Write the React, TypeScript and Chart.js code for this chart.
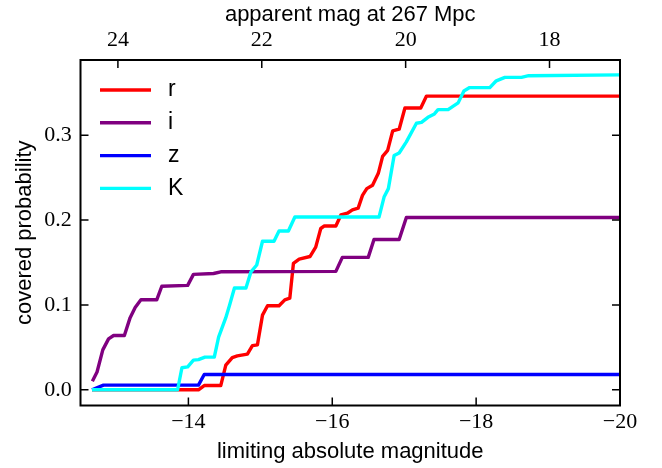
import React, { useEffect, useRef } from 'react';
import { Chart, registerables } from 'chart.js';

Chart.register(...registerables);

// Axis ranges and ticks
const DIST_MOD = 37.02; // apparent = absolute + DIST_MOD at 267 Mpc
const X_MIN = -20;
const X_MAX = -12.5;
const Y_MIN = -0.0185;
const Y_MAX = 0.3885;
const xTicks = [-14, -16, -18, -20];
const topTicks = [24, 22, 20, 18];
const yTicks = [0, 0.1, 0.2, 0.3];

const seriesLabels = ['r', 'i', 'z', 'K'];
const seriesColors = ['#ff0000', '#800080', '#0000ff', '#00ffff'];

// r band
const rX = [-12.66, -14.14, -14.22, -14.45, -14.52, -14.61, -14.68, -14.82, -14.89, -14.96, -15.03, -15.10, -15.26, -15.34, -15.41, -15.46, -15.54, -15.69, -15.77, -15.84, -15.89, -16.05, -16.12, -16.21, -16.28, -16.36, -16.42, -16.48, -16.56, -16.64, -16.70, -16.77, -16.84, -16.93, -17.01, -17.23, -17.31, -20];
const rY = [0, 0, 0.005, 0.005, 0.029, 0.038, 0.040, 0.042, 0.052, 0.053, 0.088, 0.099, 0.099, 0.106, 0.108, 0.149, 0.154, 0.157, 0.168, 0.190, 0.193, 0.193, 0.206, 0.208, 0.212, 0.214, 0.229, 0.237, 0.241, 0.255, 0.275, 0.282, 0.305, 0.307, 0.332, 0.332, 0.346, 0.346];

// i band
const iX = [-12.665, -12.73, -12.81, -12.89, -12.96, -13.11, -13.19, -13.26, -13.34, -13.56, -13.63, -13.99, -14.07, -14.35, -14.45, -16.05, -16.14, -16.50, -16.58, -16.93, -17.03, -20];
const iY = [0.010, 0.021, 0.047, 0.060, 0.064, 0.064, 0.085, 0.097, 0.106, 0.106, 0.122, 0.123, 0.136, 0.137, 0.139, 0.1395, 0.156, 0.156, 0.177, 0.177, 0.203, 0.203];

// z band
const zX = [-12.66, -12.82, -14.14, -14.22, -20];
const zY = [0, 0.0055, 0.0055, 0.018, 0.018];

// K band
const kX = [-12.66, -13.85, -13.91, -13.99, -14.07, -14.14, -14.23, -14.36, -14.42, -14.52, -14.57, -14.64, -14.80, -14.87, -14.95, -15.03, -15.19, -15.26, -15.39, -15.48, -16.65, -16.72, -16.78, -16.86, -16.93, -17.03, -17.17, -17.24, -17.33, -17.42, -17.47, -17.61, -17.75, -17.83, -17.91, -18.19, -18.28, -18.40, -18.63, -18.73, -20];
const kY = [0, 0, 0.026, 0.027, 0.035, 0.0355, 0.0385, 0.0385, 0.062, 0.085, 0.099, 0.120, 0.120, 0.139, 0.147, 0.175, 0.175, 0.187, 0.187, 0.2035, 0.2035, 0.227, 0.237, 0.276, 0.279, 0.292, 0.314, 0.315, 0.321, 0.325, 0.330, 0.330, 0.338, 0.352, 0.356, 0.356, 0.364, 0.368, 0.368, 0.370, 0.371];

const seriesX = [rX, iX, zX, kX];
const seriesY = [rY, iY, zY, kY];

const serif = "'Liberation Serif', 'Times New Roman', serif";
const sans = "'Liberation Sans', Arial, sans-serif";

const frameAndLegend = {
  id: 'frameAndLegend',
  afterDraw(chart: any) {
    const ctx = chart.ctx;
    const { left, right, top, bottom } = chart.chartArea;
    const xs = chart.scales.x;
    const xt = chart.scales.x2;
    const ys = chart.scales.y;
    const tl = 8;
    ctx.save();
    ctx.strokeStyle = '#000';
    ctx.lineWidth = 1.5;
    ctx.beginPath();
    xTicks.forEach((v) => {
      const p = xs.getPixelForValue(v);
      ctx.moveTo(p, bottom);
      ctx.lineTo(p, bottom - tl);
    });
    topTicks.forEach((v) => {
      const p = xt.getPixelForValue(v);
      ctx.moveTo(p, top);
      ctx.lineTo(p, top + tl);
    });
    yTicks.forEach((v) => {
      const p = ys.getPixelForValue(v);
      ctx.moveTo(left, p);
      ctx.lineTo(left + tl, p);
      ctx.moveTo(right, p);
      ctx.lineTo(right - tl, p);
    });
    ctx.stroke();
    ctx.lineWidth = 2;
    ctx.strokeRect(left, top, right - left, bottom - top);

    // legend
    const lx0 = left + 19.5;
    const lx1 = left + 70.5;
    const ty = left + 87.5;
    const y0 = 90;
    const dy = 32.8;
    ctx.font = `23px ${sans}`;
    ctx.textBaseline = 'middle';
    ctx.textAlign = 'left';
    chart.data.datasets.forEach((ds: any, i: number) => {
      const y = y0 + i * dy;
      ctx.strokeStyle = ds.borderColor;
      ctx.lineWidth = 3.4;
      ctx.beginPath();
      ctx.moveTo(lx0, y);
      ctx.lineTo(lx1, y);
      ctx.stroke();
      ctx.fillStyle = '#000';
      ctx.fillText(ds.label, ty, y);
    });
    ctx.restore();
  },
};

export default function App() {
  const ref = useRef<HTMLCanvasElement | null>(null);
  useEffect(() => {
    document.body.style.margin = '0';
    const canvas = ref.current;
    if (!canvas) return;
    const datasets = seriesLabels.map((label, s) => ({
      label,
      data: seriesX[s].map((x, j) => ({ x, y: seriesY[s][j] })),
      borderColor: seriesColors[s],
      backgroundColor: seriesColors[s],
      borderWidth: 3.4,
      pointRadius: 0,
      tension: 0,
      fill: false,
      borderJoinStyle: 'round' as const,
      order: seriesLabels.length - s,
    }));
    const chart = new Chart(canvas, {
      type: 'line',
      data: { datasets },
      plugins: [frameAndLegend],
      options: {
        animation: false,
        responsive: false,
        devicePixelRatio: 1,
        layout: { padding: { left: 0, top: 0, right: 42, bottom: 0 } },
        plugins: { legend: { display: false }, tooltip: { enabled: false } },
        scales: {
          x: {
            type: 'linear',
            position: 'bottom',
            min: X_MIN,
            max: X_MAX,
            reverse: true,
            grid: { display: false, drawTicks: false },
            border: { display: false },
            afterBuildTicks: (sc: any) => {
              sc.ticks = xTicks.map((v) => ({ value: v }));
            },
            afterFit: (sc: any) => {
              sc.height = 62.5;
            },
            ticks: {
              autoSkip: false,
              maxRotation: 0,
              padding: 3.3,
              color: '#000',
              font: { family: serif, size: 22 },
              callback: (v: any) => (Number(v) < 0 ? '\u2212' : '') + Math.abs(Number(v)),
            },
            title: {
              display: true,
              text: 'limiting absolute magnitude',
              color: '#000',
              font: { family: sans, size: 22 },
              padding: { top: 0, bottom: 2.4 },
            },
          },
          x2: {
            type: 'linear',
            position: 'top',
            min: X_MIN + DIST_MOD,
            max: X_MAX + DIST_MOD,
            reverse: true,
            grid: { display: false, drawTicks: false },
            border: { display: false },
            afterBuildTicks: (sc: any) => {
              sc.ticks = topTicks.map((v) => ({ value: v }));
            },
            afterFit: (sc: any) => {
              sc.height = 60;
            },
            ticks: {
              autoSkip: false,
              maxRotation: 0,
              padding: 6.5,
              color: '#000',
              font: { family: serif, size: 22 },
              callback: (v: any) => String(v),
            },
            title: {
              display: true,
              text: 'apparent mag at 267 Mpc',
              color: '#000',
              font: { family: sans, size: 22 },
              padding: { top: 1.9, bottom: 0 },
            },
          },
          y: {
            type: 'linear',
            position: 'left',
            min: Y_MIN,
            max: Y_MAX,
            grid: { display: false, drawTicks: false },
            border: { display: false },
            afterBuildTicks: (sc: any) => {
              sc.ticks = yTicks.map((v) => ({ value: v }));
            },
            afterFit: (sc: any) => {
              sc.width = 80.5;
            },
            ticks: {
              autoSkip: false,
              padding: 8.8,
              color: '#000',
              font: { family: serif, size: 22 },
              callback: (v: any) => Number(v).toFixed(1),
            },
            title: {
              display: true,
              text: 'covered probability',
              color: '#000',
              font: { family: sans, size: 22 },
              padding: { top: 12, bottom: 0 },
            },
          },
        },
      },
    });
    return () => chart.destroy();
  }, []);
  return (
    <div style={{ position: 'absolute', left: 0, top: 0, width: 662, height: 468, background: '#fff' }}>
      <canvas ref={ref} width={662} height={468} />
    </div>
  );
}
